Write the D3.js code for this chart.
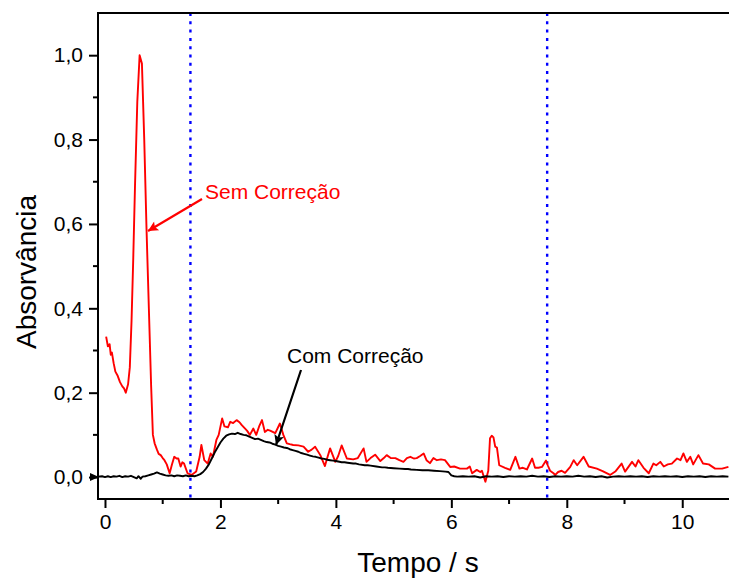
<!DOCTYPE html>
<html>
<head>
<meta charset="utf-8">
<script src="https://cdn.jsdelivr.net/npm/d3@7"></script>
<style>
  html, body { margin: 0; padding: 0; background: #fff; }
  svg { display: block; font-family: "Liberation Sans", Arial, sans-serif; }
</style>
</head>
<body>
<svg id="chart" width="729" height="578"></svg>
<script>
// ---- Data ----
const xTicks = [0, 2, 4, 6, 8, 10];
const xMinorTicks = [1, 3, 5, 7, 9];
const yTicks = [0, 0.2, 0.4, 0.6, 0.8, 1.0];
const yMinorTicks = [0.1, 0.3, 0.5, 0.7, 0.9];
const markerLines = [1.48, 7.66];

// "Sem Correção" (red): [tempo, absorvância]
const semCorrecao = [
  [0.02,0.333],[0.05,0.31],[0.08,0.315],[0.10,0.29],[0.12,0.295],[0.15,0.27],[0.18,0.25],
  [0.22,0.24],[0.26,0.225],[0.30,0.215],[0.33,0.21],[0.36,0.20],[0.40,0.22],[0.43,0.26],
  [0.46,0.37],[0.49,0.52],[0.52,0.69],[0.56,0.89],[0.60,1.0],[0.64,0.98],[0.68,0.80],
  [0.72,0.586],[0.76,0.40],[0.80,0.214],[0.83,0.10],[0.86,0.08],[0.90,0.065],[0.93,0.055],
  [0.965,0.052],[1.00,0.045],[1.03,0.04],[1.07,0.03],[1.12,0.009],[1.16,0.03],[1.20,0.048],
  [1.24,0.044],[1.27,0.044],[1.31,0.025],[1.34,0.035],[1.37,0.032],[1.43,0.009],[1.50,0.005],
  [1.58,0.013],[1.64,0.048],[1.67,0.076],[1.72,0.04],[1.78,0.032],[1.83,0.056],[1.87,0.048],
  [1.93,0.088],[1.97,0.10],[2.03,0.139],[2.07,0.12],[2.13,0.118],[2.17,0.131],[2.22,0.128],
  [2.28,0.135],[2.33,0.13],[2.37,0.123],[2.46,0.11],[2.51,0.10],[2.57,0.115],[2.62,0.10],
  [2.67,0.12],[2.72,0.135],[2.77,0.107],[2.82,0.112],[2.86,0.11],[2.95,0.104],[3.03,0.127],
  [3.09,0.10],[3.15,0.08],[3.20,0.078],[3.26,0.076],[3.35,0.075],[3.44,0.072],[3.52,0.06],
  [3.58,0.065],[3.64,0.072],[3.73,0.052],[3.81,0.026],[3.86,0.05],[3.90,0.068],[3.99,0.036],
  [4.04,0.05],[4.10,0.075],[4.19,0.044],[4.30,0.042],[4.38,0.045],[4.48,0.068],[4.53,0.036],
  [4.60,0.045],[4.68,0.053],[4.77,0.038],[4.83,0.045],[4.88,0.052],[4.95,0.045],[5.03,0.045],
  [5.10,0.04],[5.17,0.036],[5.23,0.045],[5.29,0.048],[5.35,0.044],[5.40,0.045],[5.46,0.05],
  [5.52,0.056],[5.57,0.04],[5.63,0.033],[5.69,0.045],[5.75,0.04],[5.82,0.042],[5.89,0.04],
  [5.98,0.024],[6.05,0.025],[6.15,0.02],[6.27,0.02],[6.32,0.025],[6.36,0.009],[6.44,0.017],
  [6.50,0.012],[6.53,0.015],[6.59,-0.011],[6.64,0.015],[6.67,0.092],[6.70,0.098],[6.73,0.094],
  [6.76,0.072],[6.79,0.07],[6.83,0.028],[6.93,0.022],[7.02,0.017],[7.11,0.048],[7.18,0.02],
  [7.24,0.022],[7.31,0.018],[7.40,0.044],[7.45,0.022],[7.51,0.022],[7.57,0.024],[7.64,0.039],
  [7.67,0.028],[7.71,0.015],[7.77,0.009],[7.80,0.005],[7.85,0.012],[7.91,0.015],[7.97,0.01],
  [8.06,0.024],[8.12,0.04],[8.18,0.028],[8.29,0.048],[8.38,0.025],[8.52,0.02],[8.62,0.014],
  [8.75,0.005],[8.84,0.013],[8.95,0.032],[9.01,0.013],[9.13,0.036],[9.19,0.025],[9.24,0.04],
  [9.33,0.022],[9.42,0.009],[9.50,0.032],[9.55,0.028],[9.62,0.036],[9.68,0.025],[9.75,0.03],
  [9.82,0.032],[9.91,0.044],[9.97,0.04],[10.02,0.056],[10.08,0.036],[10.14,0.048],[10.19,0.03],
  [10.28,0.052],[10.36,0.032],[10.46,0.03],[10.57,0.02],[10.69,0.02],[10.80,0.024]
];

// "Com Correção" (black): [tempo, absorvância]
const comCorrecao = [
  [-0.12,0.001],[-0.05,0.002],[0.0,0.0],[0.05,0.002],[0.1,0.0],[0.15,0.002],[0.2,0.001],
  [0.25,0.003],[0.3,0.0],[0.35,0.002],[0.4,0.001],[0.45,0.003],[0.5,0.0],[0.55,-0.003],
  [0.58,0.002],[0.62,-0.004],[0.65,0.001],[0.7,0.002],[0.75,0.004],[0.8,0.006],[0.85,0.008],
  [0.9,0.011],[0.95,0.008],[1.0,0.006],[1.05,0.004],[1.1,0.003],[1.15,0.004],[1.2,0.002],
  [1.25,0.004],[1.3,0.003],[1.35,0.002],[1.4,0.004],[1.45,0.002],[1.5,0.003],[1.55,0.002],
  [1.6,0.004],[1.65,0.007],[1.7,0.012],[1.75,0.02],[1.8,0.03],[1.85,0.044],[1.9,0.058],
  [1.95,0.07],[2.0,0.082],[2.05,0.091],[2.1,0.098],[2.15,0.101],[2.2,0.103],[2.25,0.102],
  [2.3,0.105],[2.35,0.102],[2.4,0.1],[2.45,0.099],[2.5,0.096],[2.55,0.093],[2.6,0.09],
  [2.65,0.091],[2.7,0.088],[2.75,0.085],[2.8,0.083],[2.85,0.082],[2.9,0.079],[2.95,0.077],
  [3.0,0.074],[3.05,0.072],[3.1,0.07],[3.15,0.069],[3.2,0.066],[3.25,0.064],[3.3,0.062],
  [3.35,0.06],[3.4,0.057],[3.45,0.055],[3.5,0.053],[3.55,0.051],[3.6,0.049],[3.65,0.048],
  [3.7,0.046],[3.75,0.044],[3.8,0.043],[3.85,0.041],[3.9,0.04],[3.95,0.039],[4.0,0.038],
  [4.1,0.035],[4.15,0.035],[4.2,0.034],[4.3,0.032],[4.35,0.032],[4.4,0.03],[4.5,0.028],
  [4.55,0.028],[4.6,0.027],[4.7,0.025],[4.8,0.023],[4.85,0.023],[4.9,0.022],[5.0,0.021],
  [5.1,0.02],[5.2,0.019],[5.25,0.019],[5.3,0.018],[5.4,0.017],[5.5,0.016],[5.6,0.016],
  [5.7,0.015],[5.8,0.014],[5.9,0.013],[5.95,0.012],[6.0,0.004],[6.05,0.002],[6.1,0.001],
  [6.2,0.002],[6.3,0.001],[6.4,0.002],[6.5,-0.001],[6.6,0.002],[6.7,0.001],[6.8,0.002],
  [6.9,0.0],[7.0,0.002],[7.1,0.001],[7.2,0.002],[7.3,0.001],[7.4,0.003],[7.5,0.001],
  [7.6,0.002],[7.7,0.0],[7.8,0.002],[7.9,0.001],[8.0,0.002],[8.1,0.001],[8.2,0.003],
  [8.3,0.001],[8.4,0.002],[8.5,0.0],[8.6,0.002],[8.7,-0.001],[8.8,0.001],[8.9,0.002],
  [9.0,0.001],[9.1,0.002],[9.2,0.001],[9.3,0.002],[9.4,0.0],[9.5,0.002],[9.6,0.001],
  [9.7,0.002],[9.8,0.001],[9.9,0.002],[10.0,0.0],[10.1,0.002],[10.2,0.001],[10.3,0.002],
  [10.4,0.0],[10.5,0.002],[10.6,0.001],[10.7,0.002],[10.8,0.001]
];

// ---- Layout ----
const svg = d3.select("#chart");
const padL = 98, padR = 729, padT = 13, padB = 499;

const x = d3.scaleLinear().domain([-0.121, 10.81]).range([padL, padR]);
const y = d3.scaleLinear().domain([-0.052, 1.1]).range([padB, padT]);

const defs = svg.append("defs");
defs.append("clipPath").attr("id", "clip")
  .append("rect").attr("x", padL).attr("y", padT).attr("width", padR - padL).attr("height", padB - padT);

const plot = svg.append("g").attr("clip-path", "url(#clip)");

// blue dotted markers
plot.selectAll("line.marker").data(markerLines).enter().append("line")
  .attr("class", "marker")
  .attr("x1", d => x(d)).attr("x2", d => x(d))
  .attr("y1", padT).attr("y2", padB)
  .attr("stroke", "#0000ff").attr("stroke-width", 2.4)
  .attr("stroke-dasharray", "3,5.3");

const line = d3.line().x(d => x(d[0])).y(d => y(d[1]));

plot.append("path").datum(semCorrecao).attr("d", line)
  .attr("fill", "none").attr("stroke", "#ff0000").attr("stroke-width", 1.9)
  .attr("stroke-linejoin", "round");

plot.append("path").datum(comCorrecao).attr("d", line)
  .attr("fill", "none").attr("stroke", "#000000").attr("stroke-width", 1.9)
  .attr("stroke-linejoin", "round");

// ---- Axes ----
const fontTick = 21;
const xAxis = d3.axisBottom(x).tickValues(xTicks).tickSize(9).tickPadding(6)
  .tickFormat(d3.format("d"));
const gx = svg.append("g").attr("transform", `translate(0,${padB})`).call(xAxis);
gx.select(".domain").remove();
gx.selectAll(".tick line").attr("stroke", "#000").attr("stroke-width", 2);
gx.selectAll(".tick text").attr("font-size", fontTick).attr("fill", "#000")
  .attr("font-family", "Liberation Sans, Arial, sans-serif");
gx.selectAll(".minor").data(xMinorTicks).enter().append("line")
  .attr("x1", d => x(d)).attr("x2", d => x(d)).attr("y1", 0).attr("y2", 5)
  .attr("stroke", "#000").attr("stroke-width", 2);

const commaFmt = d => d.toFixed(1).replace(".", ",");
const yAxis = d3.axisLeft(y).tickValues(yTicks).tickSize(9).tickPadding(6).tickFormat(commaFmt);
const gy = svg.append("g").attr("transform", `translate(${padL},0)`).call(yAxis);
gy.select(".domain").remove();
gy.selectAll(".tick line").attr("stroke", "#000").attr("stroke-width", 2);
gy.selectAll(".tick text").attr("font-size", fontTick).attr("fill", "#000")
  .attr("font-family", "Liberation Sans, Arial, sans-serif");
gy.selectAll(".minor").data(yMinorTicks).enter().append("line")
  .attr("x1", 0).attr("x2", -5).attr("y1", d => y(d)).attr("y2", d => y(d))
  .attr("stroke", "#000").attr("stroke-width", 2);

// frame: left, bottom, top
svg.append("path")
  .attr("d", `M${padR},${padT}H${padL}V${padB}H${padR}`)
  .attr("fill", "none").attr("stroke", "#000").attr("stroke-width", 2);

// zero marker triangle at left
const y0 = y(0);
svg.append("path")
  .attr("d", `M${padL - 8},${y0 - 4}L${padL + 1},${y0}L${padL - 8},${y0 + 4}Z`)
  .attr("fill", "#000");

// axis titles
svg.append("text").attr("x", 418).attr("y", 572).attr("text-anchor", "middle")
  .attr("font-size", 28).attr("fill", "#000").text("Tempo / s");
svg.append("text").attr("transform", `translate(36,272) rotate(-90)`).attr("text-anchor", "middle")
  .attr("font-size", 28).attr("fill", "#000").text("Absorvância");

// annotations
function marker(id, color) {
  defs.append("marker").attr("id", id).attr("viewBox", "0 0 10 10")
    .attr("refX", 10).attr("refY", 5).attr("markerWidth", 15).attr("markerHeight", 10)
    .attr("markerUnits", "userSpaceOnUse").attr("orient", "auto")
    .append("path").attr("d", "M0,0L10,5L0,10L2,5Z").attr("fill", color);
}
marker("arrRed", "#ff0000");
marker("arrBlack", "#000000");

svg.append("line").attr("x1", 202).attr("y1", 199).attr("x2", 148).attr("y2", 231)
  .attr("stroke", "#ff0000").attr("stroke-width", 2.2).attr("marker-end", "url(#arrRed)");
svg.append("text").attr("x", 205).attr("y", 199).attr("font-size", 21).attr("fill", "#ff0000")
  .text("Sem Correção");

svg.append("line").attr("x1", 301).attr("y1", 370).attr("x2", 276).attr("y2", 445)
  .attr("stroke", "#000").attr("stroke-width", 2.2).attr("marker-end", "url(#arrBlack)");
svg.append("text").attr("x", 287).attr("y", 363).attr("font-size", 21).attr("fill", "#000")
  .text("Com Correção");
</script>
</body>
</html>
